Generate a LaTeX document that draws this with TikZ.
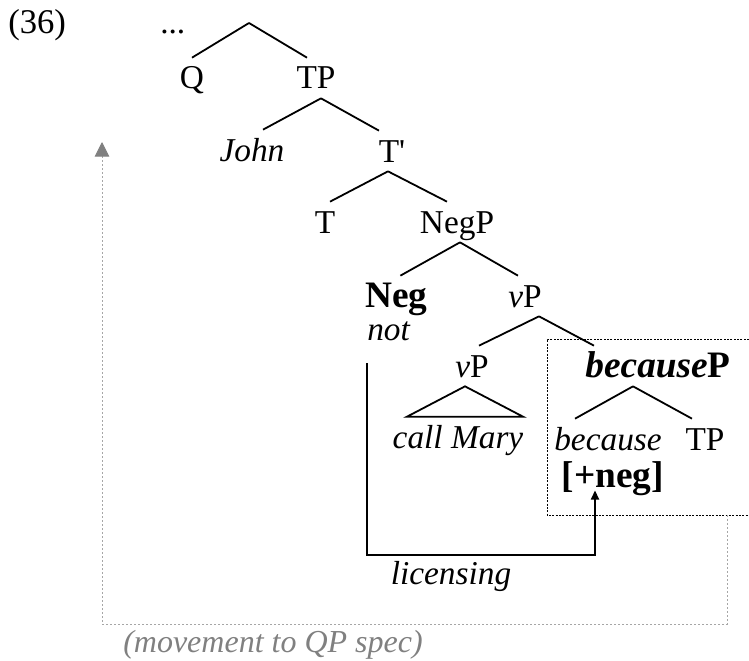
\documentclass[tikz,border=0pt]{standalone}
\usepackage{fontspec}
\setmainfont{Liberation Serif}
\usetikzlibrary{arrows.meta}

\begin{document}
\begin{tikzpicture}[x=0.75pt,y=-0.75pt,>={Triangle[width=6pt,length=7pt]},
  lab/.style={anchor=base,inner sep=0pt,outer ysep=7pt,text height=16.5pt,text depth=0pt,font=\fontsize{25}{30}\selectfont},
  blab/.style={lab,font=\fontsize{28}{33}\selectfont\bfseries},
  branch/.style={line width=1.35pt},
  licline/.style={line width=1.6pt},
  boxline/.style={line width=0.6pt,dash pattern=on 1.5pt off 1pt},
  mvline/.style={movegray!70,line width=0.7pt,dash pattern=on 1.5pt off 1.5pt}]
\colorlet{movegray}{black!50} % grey of the movement path
\useasboundingbox (0,0) rectangle (749,660);

\node[lab,anchor=base west,font=\fontsize{26}{30}\selectfont] (num) at (8,34) {(36)};
\node[lab,anchor=base west] (dots) at (160,34) {...};
\coordinate (root) at (249,23);

\node[lab] (Q) at (192,89) {Q};
\node[lab] (TP) at (316,89) {TP};
\node[lab] (john) at (252,161) {\textit{John}};
\node[lab] (Tbar) at (392,162) {T\textquotesingle};
\node[lab] (T) at (325,233) {T};
\node[lab] (negP) at (457,233) {NegP};
\node[blab,anchor=base west] (neg) at (365,307) {Neg};
\node[lab,anchor=base west] (notW) at (367,340) {\textit{not}};
\node[lab] (vP) at (525,307) {\textit{v}P};
\node[lab] (vPlow) at (472,377) {\textit{v}P};
\node[lab] (cMary) at (458,448) {\textit{call Mary}};
\node[blab] (becP) at (658,377) {\textit{because}P};
\node[lab] (bec) at (608,450) {\textit{because}};
\node[lab] (TPlow) at (705,450) {TP};
\node[blab] (plusneg) at (613,487) {[+neg]};
\node[lab] (lic) at (451,584) {\textit{licensing}};
\node[lab,anchor=base west,text=movegray,font=\fontsize{24}{28}\selectfont] (move) at (123,652) {\textit{(movement to QP spec)}};

% branches
\draw[branch] (root) -- (Q.north);
\draw[branch] (root) -- ([xshift=-6.75pt]TP.north);
\draw[branch] ([xshift=3.75pt]TP.south) -- ([xshift=8.25pt]john.north);
\draw[branch] ([xshift=3.75pt]TP.south) -- ([xshift=-9.75pt]Tbar.north);
\draw[branch] ([xshift=-3pt]Tbar.south) -- ([xshift=3.75pt]T.north);
\draw[branch] ([xshift=-3pt]Tbar.south) -- ([xshift=-7.5pt]negP.north);
\draw[branch] ([xshift=2.25pt]negP.south) -- ([xshift=3pt]neg.north);
\draw[branch] ([xshift=2.25pt]negP.south) -- ([xshift=-5.25pt]vP.north);
\draw[branch] ([xshift=10.5pt]vP.south) -- ([xshift=5.25pt]vPlow.north);
\draw[branch] ([xshift=10.5pt]vP.south) -- ([xshift=-48pt]becP.north);
\draw[branch] ([xshift=-18.75pt]becP.south) -- ([xshift=-24.75pt]bec.north);
\draw[branch] ([xshift=-18.75pt]becP.south) -- ([xshift=-9.75pt]TPlow.north);

% triangle over call Mary
\draw[branch] ([xshift=-5.25pt]vPlow.south) -- ([xshift=-38.25pt]cMary.north)
  -- ([xshift=48.75pt]cMary.north) -- cycle;

% dotted box round becauseP
\draw[boxline] (749,339) -- (547,339) -- (547,515) -- (749,515);

% licensing
\coordinate (licbot) at (368,555);
\draw[licline,->] ([yshift=-10.5pt]notW.south west) |- (licbot)
  -| ([xshift=-13.5pt,yshift=4.5pt]plusneg.south);

% movement to QP spec
\coordinate (boxfoot) at (727,515);
\coordinate (moveturn) at (102,624);
\coordinate (movetop) at (102,142);
\draw[mvline,-{Triangle[width=11pt,length=11pt,color=movegray]}] (boxfoot) |- (moveturn) -- (movetop);
\end{tikzpicture}
\end{document}
